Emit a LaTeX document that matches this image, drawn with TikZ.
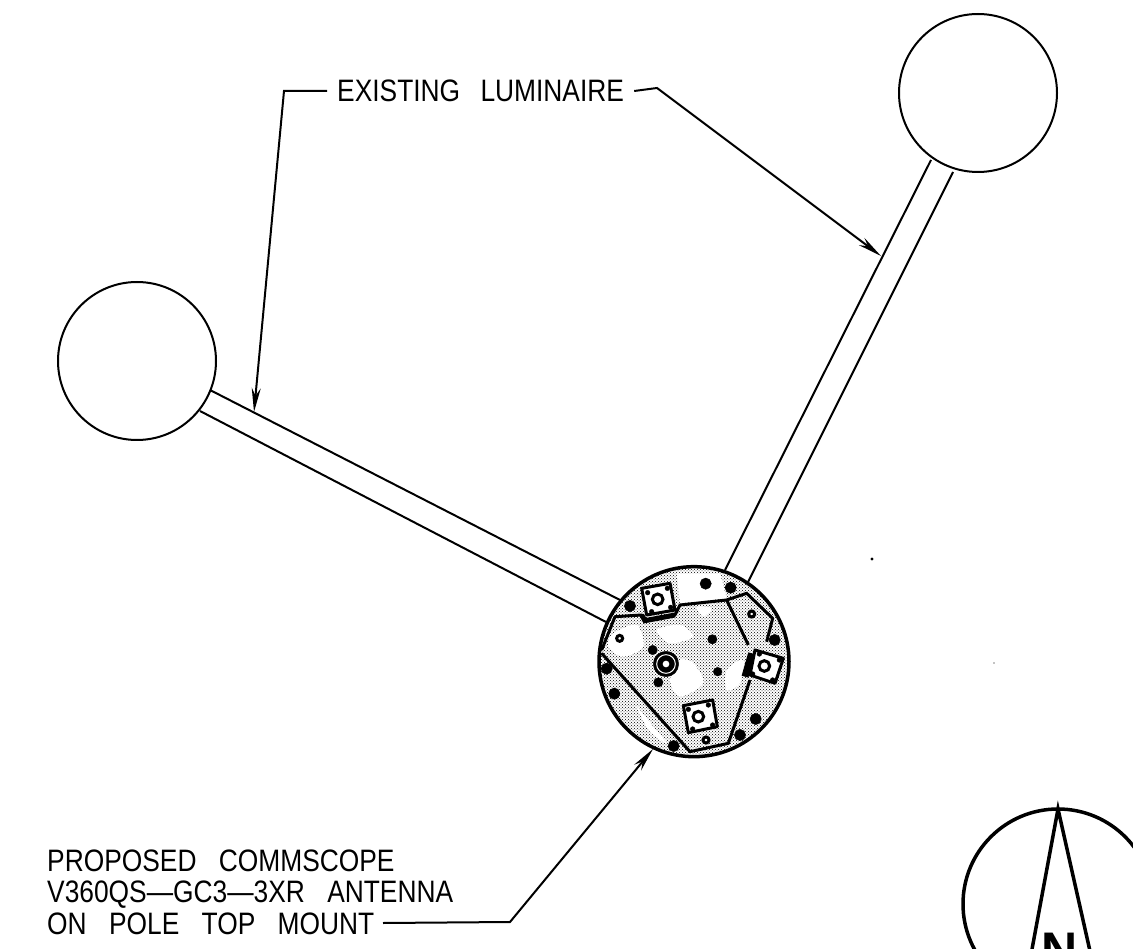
\documentclass[tikz,border=0pt]{standalone}
\usepackage{fontspec}
\setmainfont{Liberation Sans}
\newfontfamily\cadfont[FakeStretch=0.85]{Liberation Sans}
\usetikzlibrary{arrows.meta,patterns}

\tikzset{
  cadtext/.style={font=\cadfont\fontsize{31}{31.5}\selectfont, inner sep=10pt, anchor=west, align=left},
  leader/.style={line width=2pt, -{Stealth[length=24pt, width=9pt]}},
  outline/.style={line width=2pt},
  platewall/.style={line width=3pt, line join=round},
  mountbox/.style={line width=3pt, fill=white, line join=round}
}

\begin{document}
\begin{tikzpicture}[x=1pt, y=-1pt]
  \clip (0,0) rectangle (1133,949);
  \fill[white] (0,0) rectangle (1133,949);

  % luminaires and arms
  \node[circle, draw, line width=2pt, minimum size=158pt, inner sep=0pt] (lumleft) at (137,361) {};
  \node[circle, draw, line width=2pt, minimum size=158pt, inner sep=0pt] (lumright) at (978,93) {};
  \draw[outline] (210,390) -- (620,600);
  \draw[outline] (200,411) -- (606,622);
  \draw[outline] (931,160) -- (725,570);
  \draw[outline] (953,172) -- (748,582);

  % antenna, typed in zoomed pixels
  \begin{scope}[shift={(580,550)}, x=1pt/3, y=-1pt/3]
    \fill[white] (342,335) circle (285);
    \fill[pattern=crosshatch dots, pattern color=black] (342,335) circle (285);
    \fill[white] (290,70) -- (420,70) -- (440,145) -- (300,160) -- cycle;
    \fill[white] plot[smooth cycle] coordinates {(300,330) (340,340) (370,400) (300,440) (270,390)};
    \fill[white] plot[smooth cycle] coordinates {(100,250) (170,225) (190,290) (130,320) (85,290)};
    \fill[white] plot[smooth cycle] coordinates {(350,170) (395,175) (370,200)};
    \fill[white] plot[smooth cycle] coordinates {(170,470) (220,530) (260,580) (210,545)};
    \fill[white] plot[smooth cycle] coordinates {(440,360) (490,330) (480,400) (440,420)};
    \fill[white] plot[smooth cycle] coordinates {(230,240) (300,225) (340,260) (270,280)};
    \draw[line width=3.5pt] (342,335) circle (285);
    \draw[platewall] (65,300) -- (105,200) -- (185,195) -- (195,212) -- (285,195) -- (300,165)
      -- (440,150) -- (500,130) -- (578,205) -- (560,275);
    \draw[platewall] (440,150) -- (505,285);
    \draw[platewall] (510,390) -- (445,580) -- (330,605) -- (65,310);
    \draw[line width=5pt] (185,195) -- (195,212) -- (285,195);
    \draw[line width=7pt] (515,310) -- (495,380);
    \draw[mountbox] (185,115) -- (270,100) -- (285,180) -- (200,195) -- cycle;
    \draw[mountbox] (525,300) -- (610,325) -- (585,400) -- (510,375) -- cycle;
    \draw[mountbox] (310,467) -- (398,450) -- (412,530) -- (325,548) -- cycle;
    % mount centres
    \draw[line width=3pt, fill=white] (233,148) circle (16) (553,348) circle (16) (355,500) circle (16);
    \draw[fill] (203,128) circle (7) (262,115) circle (7) (215,185) circle (7) (272,172) circle (7);
    \draw[fill] (538,312) circle (7) (598,330) circle (7) (518,372) circle (7) (578,390) circle (7);
    \draw[fill] (325,478) circle (7) (385,465) circle (7) (338,537) circle (7) (398,525) circle (7);
    % holes
    \draw[fill] (377,101) circle (17) (452,113) circle (17) (150,168) circle (17) (584,270) circle (17);
    \draw[fill] (80,356) circle (17) (103,431) circle (17) (527,507) circle (17) (480,555) circle (17);
    \draw[fill] (281,588) circle (17) (397,268) circle (14) (218,300) circle (14);
    \draw[fill] (413,365) circle (13) (235,397) circle (14);
    \draw[line width=3pt, fill=white] (515,192) circle (9) (119,265) circle (9) (378,570) circle (9);
    % central post
    \draw[fill] (258,342) circle (38);
    \draw[white, line width=1pt] (258,342) circle (28);
    \fill[white] (258,342) circle (10);
  \end{scope}

  % specks
  \fill (872,559) circle (1.6);
  \fill (994,663) circle (0.7);

  % north arrow
  \draw[line width=3.5pt] (1058,904) circle (95);
  \draw[line width=3.5pt] (1030,960) -- (1058,809) -- (1092,960);
  \node[font=\fontsize{50}{50}\selectfont\bfseries, anchor=north, inner sep=0pt] (northlabel) at (1060,933) {N};

  % labels and leaders
  \node[cadtext] (existing) at (327,91) {EXISTING\hspace{13pt} LUMINAIRE};
  \node[cadtext, inner sep=0pt] (proposed) at (47,892) {PROPOSED\hspace{15pt} COMMSCOPE\\V360QS—GC3—3XR\hspace{15pt} ANTENNA\\ON\hspace{15pt} POLE\hspace{15pt} TOP\hspace{15pt} MOUNT};
  \coordinate (startleft) at (383,923);
  \coordinate (cornerleft) at (284,91);
  \coordinate (tipleft) at (254,412);
  \coordinate (cornerright) at (657,88);
  \coordinate (tipright) at (881,256);
  \coordinate (cornerbottom) at (510,922);
  \coordinate (tipbottom) at (653,749);
  \draw[leader] (existing.west) -- (cornerleft) -- (tipleft);
  \draw[leader] (existing.east) -- (cornerright) -- (tipright);
  \draw[leader] (startleft) -- (cornerbottom) -- (tipbottom);
\end{tikzpicture}
\end{document}
